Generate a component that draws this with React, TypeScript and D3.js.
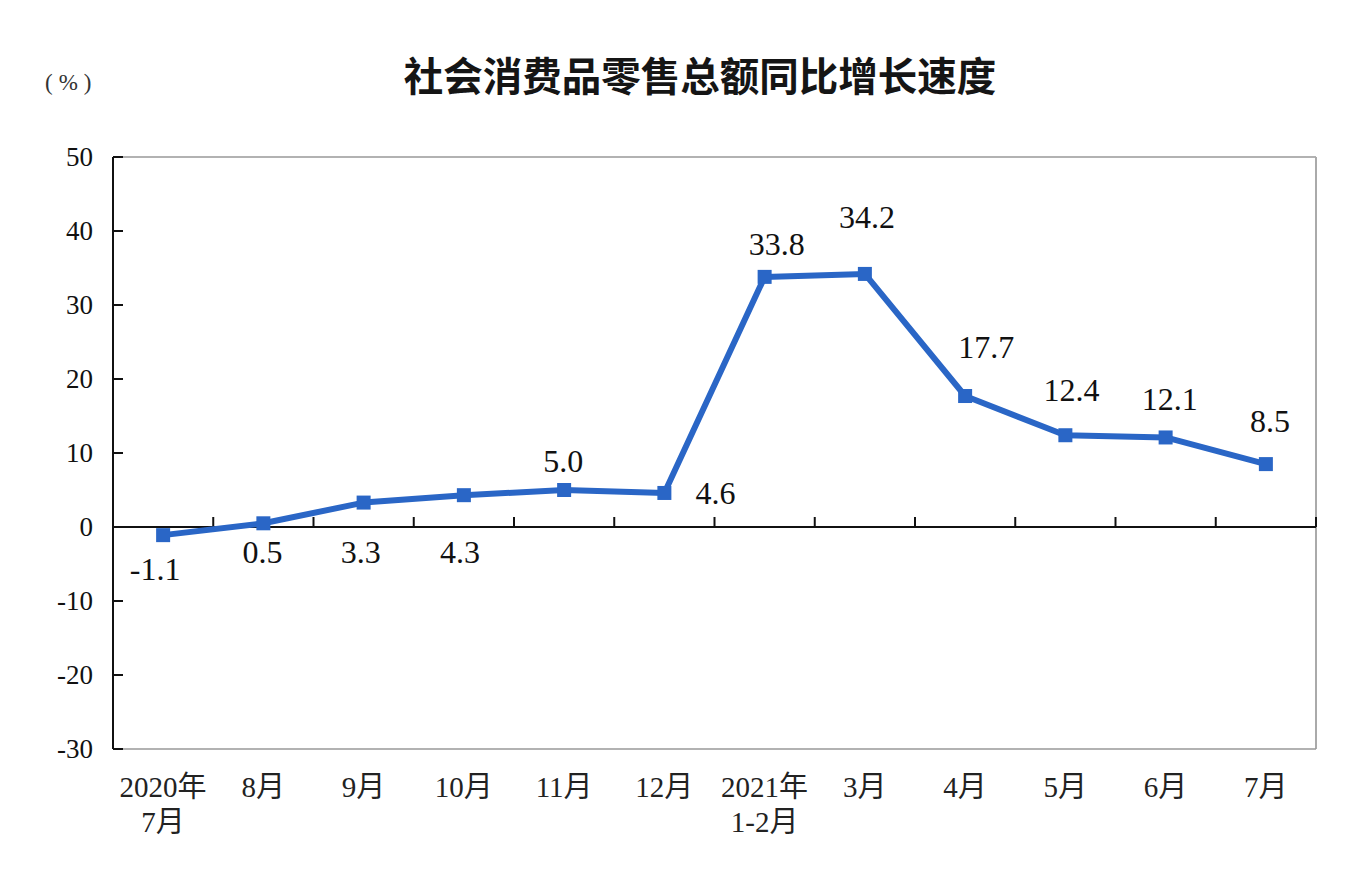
import React from "react";
import * as d3 from "d3";

const categories = ["2020年\n7月", "8月", "9月", "10月", "11月", "12月", "2021年\n1-2月", "3月", "4月", "5月", "6月", "7月"];
const values = [-1.1, 0.5, 3.3, 4.3, 5.0, 4.6, 33.8, 34.2, 17.7, 12.4, 12.1, 8.5];
const yTicks = [50, 40, 30, 20, 10, 0, -10, -20, -30];
// label centre offsets relative to point
const labelPos: [number, number][] = [
  [-8, 35], [-1, 30], [-3, 50], [-4, 58], [-1, -28], [51, 1], [12, -32], [2, -56], [21, -48], [6, -44], [4, -37], [4, -42],
];

const W = 1368, H = 876;
const left = 113, right = 1316, top = 157, bottom = 749;
const blue = "#2a66c6";
const serif = "'Liberation Serif', 'Times New Roman', 'Noto Sans CJK SC', serif";

export default function App() {
  const x = d3.scaleBand<number>().domain(d3.range(categories.length)).range([left, right]);
  const y = d3.scaleLinear().domain([-30, 50]).range([bottom, top]);
  const cx = (i: number) => (x(i) as number) + x.bandwidth() / 2;
  const line = d3.line<number>().x((_, i) => cx(i)).y((d) => y(d));
  const y0 = y(0);
  return (
    <svg width={W} height={H} style={{ position: "absolute", left: 0, top: 0, background: "#fff" }}>
      <rect x={0} y={0} width={W} height={H} fill="#fff" />
      <text x={700} y={91} textAnchor="middle" fontSize={39.5} fontWeight="bold" fontFamily="'Noto Sans CJK SC', sans-serif" fill="#151515">
        社会消费品零售总额同比增长速度
      </text>
      <text x={45} y={90} fontSize={23} fontFamily={serif} fill="#333">
        <tspan>(</tspan><tspan dx={6}>%</tspan><tspan dx={6}>)</tspan>
      </text>
      {/* frame */}
      <line x1={left} x2={right} y1={top} y2={top} stroke="#999" strokeWidth={1.5} />
      <line x1={right} x2={right} y1={top} y2={bottom} stroke="#aaa" strokeWidth={2} />
      <line x1={left} x2={right} y1={bottom} y2={bottom} stroke="#999" strokeWidth={1.5} />
      <line x1={left} x2={left} y1={top} y2={bottom} stroke="#111" strokeWidth={2} />
      {yTicks.map((t) => (
        <g key={t}>
          <line x1={left} x2={left + 10} y1={y(t)} y2={y(t)} stroke="#111" strokeWidth={2} />
          <text x={93} y={y(t) + 9} textAnchor="end" fontSize={27} fontFamily={serif} fill="#111">{t}</text>
        </g>
      ))}
      {/* zero axis */}
      <line x1={left} x2={right} y1={y0} y2={y0} stroke="#111" strokeWidth={2} />
      {d3.range(1, categories.length + 1).map((i) => {
        const xx = i < categories.length ? (x(i) as number) : right;
        return <line key={i} x1={xx} x2={xx} y1={y0} y2={y0 - 10} stroke="#111" strokeWidth={2} />;
      })}
      {/* category labels */}
      {categories.map((c, i) => (
        <text key={i} x={cx(i)} y={797} textAnchor="middle" fontSize={29} fontFamily={serif} fill="#222">
          {c.split("\n").map((s, k) => (
            <tspan key={k} x={cx(i)} dy={k === 0 ? 0 : 35}>{s}</tspan>
          ))}
        </text>
      ))}
      <path d={line(values) || ""} fill="none" stroke={blue} strokeWidth={6} strokeLinejoin="round" />
      {values.map((v, i) => (
        <rect key={i} x={cx(i) - 7} y={y(v) - 7} width={14} height={14} fill={blue} />
      ))}
      {values.map((v, i) => (
        <text key={i} x={cx(i) + labelPos[i][0]} y={y(v) + labelPos[i][1] + 10} textAnchor="middle" fontSize={32} fontFamily={serif} fill="#111">
          {v.toFixed(1)}
        </text>
      ))}
    </svg>
  );
}
